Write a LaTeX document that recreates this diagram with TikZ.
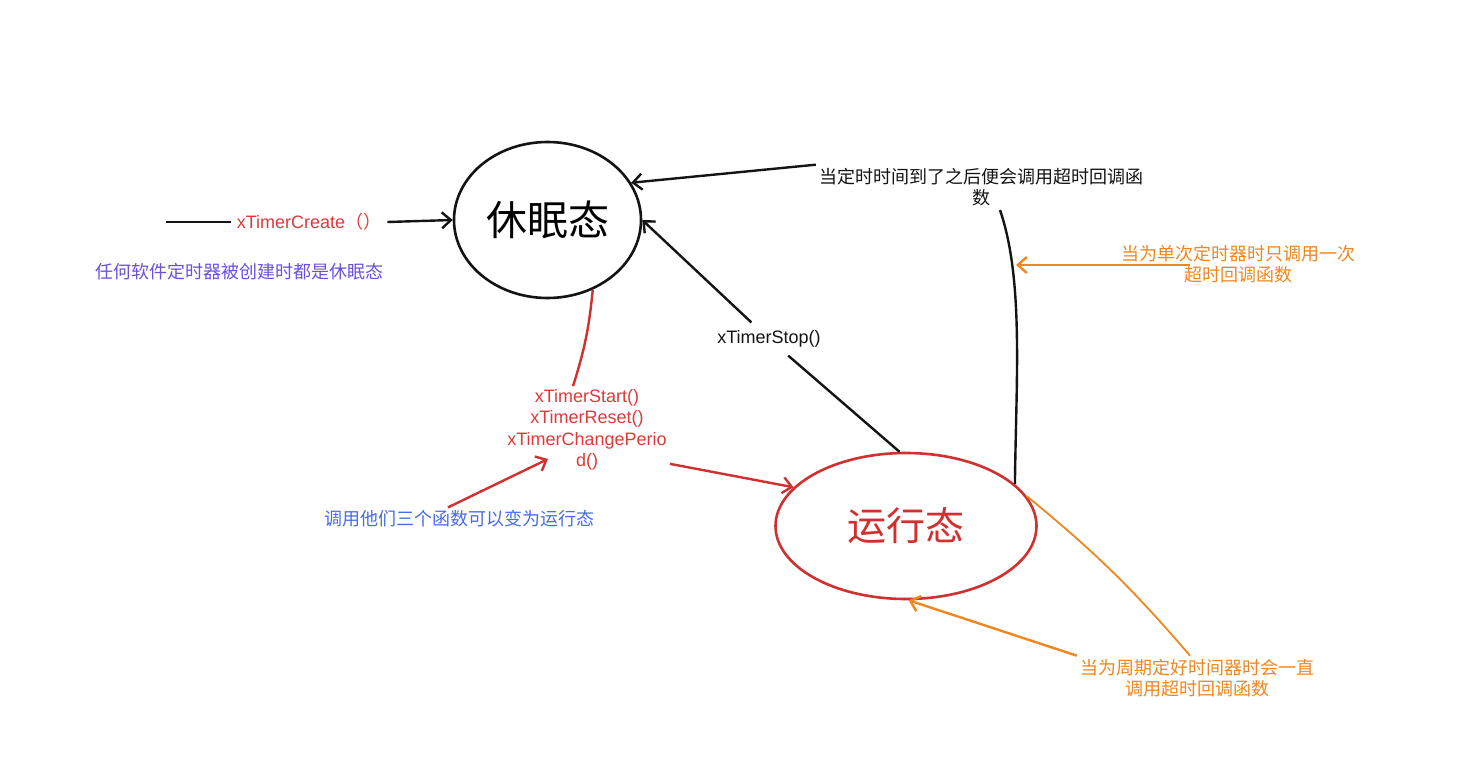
\documentclass[tikz,border=0pt]{standalone}
\usepackage{fontspec}
\setmainfont{Liberation Sans}
\newfontfamily\cjk{Noto Sans CJK SC}
\usetikzlibrary{arrows.meta,shapes.geometric}
\definecolor{cred}{RGB}{208,48,48}
\definecolor{ctred}{RGB}{222,58,58}
\definecolor{cpurple}{RGB}{110,80,220}
\definecolor{cblue}{RGB}{72,108,228}
\definecolor{corange}{RGB}{240,135,30}
\definecolor{cblack}{RGB}{20,20,20}
\begin{document}
\begin{tikzpicture}[x=1pt,y=-1pt,
  lbl/.style={font=\fontsize{18}{21.5}\selectfont, align=center, inner sep=3pt},
  arr/.style={-{Straight Barb[length=9pt,width=16pt]}},
  blk/.style={draw=cblack, line width=2.4pt},
  state/.style={ellipse, inner sep=0pt, line width=2.6pt}]
\useasboundingbox[fill=white] (0,0) rectangle (1465,758);

% states
\node[state, draw=cblack, minimum width=187pt, minimum height=156pt, font=\fontsize{41}{41}\selectfont\cjk] (sleep) at (547.5,220) {休眠态};
\node[state, draw=cred, minimum width=261pt, minimum height=146pt, text=cred, font=\fontsize{39}{39}\selectfont\cjk] (run) at (906,526) {运行态};

% create
\node[lbl, text=ctred, inner sep=6pt] (create) at (309,222) {xTimerCreate{\cjk （）}};
\coordinate (cstart) at (166,222);
\draw[blk] (cstart) -- (create.west);
\draw[blk, arr] (create.east) -- (sleep.west);
\node[lbl, text=cpurple, font=\fontsize{18}{21.5}\selectfont\cjk] (note1) at (239,272) {任何软件定时器被创建时都是休眠态};

% timeout
\node[lbl, text=cblack, font=\fontsize{18}{21.5}\selectfont\cjk] (tout) at (981,187) {当定时时间到了之后便会调用超时回调函\\数};
\draw[blk, arr] (tout.north west) -- (sleep.24);
\coordinate (ttop) at (1000,210);
\draw[blk] (run.21) .. controls (1016,380) and (1024,280) .. (ttop);

% single
\node[lbl, text=corange, font=\fontsize{18}{21.5}\selectfont\cjk] (single) at (1238,264) {当为单次定时器时只调用一次\\超时回调函数};
\coordinate (s1) at (1190,265);
\coordinate (s2) at (1016,265);
\draw[draw=corange, line width=2.4pt, arr] (s1) -- (s2);

% stop
\node[lbl, text=cblack, inner sep=8pt] (stop) at (769,339) {xTimerStop()};
\draw[blk] (run.95) -- (stop);
\draw[blk, arr] (stop) -- (sleep.east);

% start/reset/change
\node[lbl, text=ctred] (funcs) at (587,430) {xTimerStart()\\xTimerReset()\\xTimerChangePerio\\d()};
\draw[draw=cred, line width=2.4pt] (sleep.-57) to[bend left=6] ([xshift=-14pt]funcs.north);
\draw[draw=cred, line width=2.4pt, arr] ([yshift=10pt]funcs.south east) -- (run.161);
\node[lbl, text=cblue, font=\fontsize{18}{21.5}\selectfont\cjk] (note2) at (459,519) {调用他们三个函数可以变为运行态};
\coordinate (fin) at (548,459);
\draw[draw=cred, line width=2.4pt, arr] ([xshift=-11pt]note2.north) -- (fin);

% periodic
\node[lbl, text=corange, font=\fontsize{18}{21.5}\selectfont\cjk] (periodic) at (1197,678) {当为周期定好时间器时会一直\\调用超时回调函数};
\draw[draw=corange, line width=1.8pt] (run.14) to[bend left=5] ([xshift=-7pt]periodic.north);
\draw[draw=corange, line width=2.4pt, arr] (periodic.north west) -- (run.-88);
\end{tikzpicture}
\end{document}
